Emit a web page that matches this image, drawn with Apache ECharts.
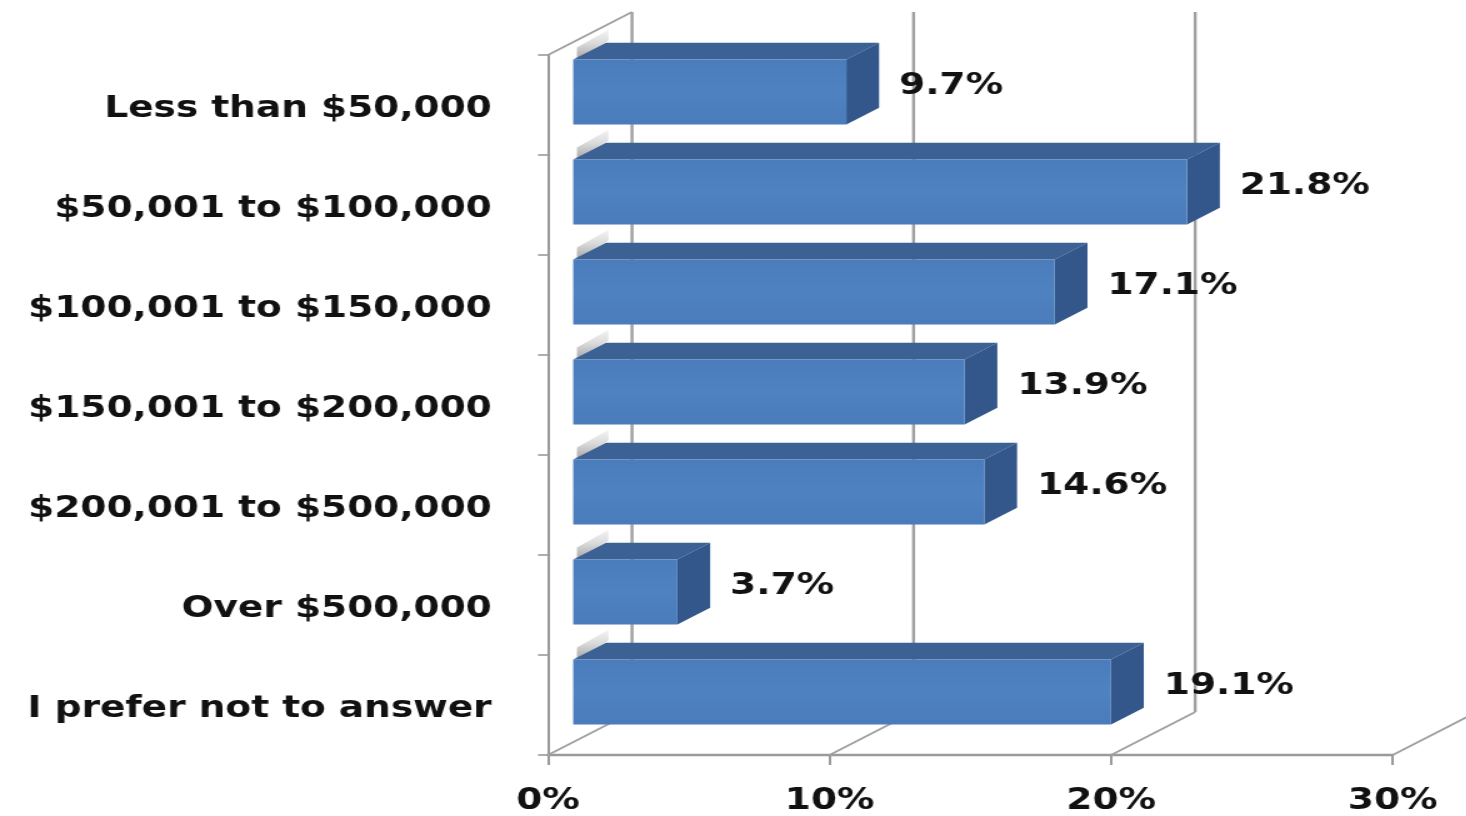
<!DOCTYPE html>
<html>
<head>
<meta charset="utf-8">
<script src="https://cdn.jsdelivr.net/npm/echarts@6/dist/echarts.min.js"></script>
<style>
  html, body { margin: 0; padding: 0; background: #ffffff; overflow: hidden; }
  /* the chart is laid out narrow and widened horizontally as a whole */
  #chart { width: 1172.8px; height: 816px; transform: scaleX(1.25); transform-origin: 0 0; }
</style>
</head>
<body>
<div id="chart"></div>
<script>
// Household income categories and the share of respondents (%)
const categories = [
  'Less than $50,000',
  '$50,001 to $100,000',
  '$100,001 to $150,000',
  '$150,001 to $200,000',
  '$200,001 to $500,000',
  'Over $500,000',
  'I prefer not to answer'
];
const shares = [9.7, 21.8, 17.1, 13.9, 14.6, 3.7, 19.1];
const xTicks = [0, 10, 20, 30];

const FONT = '"DejaVu Sans", Verdana, sans-serif';
// oblique depth of the 3D box (px) and where the bars sit along it
const DEPTH = [67.2, -43];
const BAR_FRONT = 0.30, BAR_BACK = 0.69;
const WALL = '#a0a0a0';

const chart = echarts.init(document.getElementById('chart'));

function shift(p, t) { return [p[0] + DEPTH[0] * t, p[1] + DEPTH[1] * t]; }

// Back wall gridlines, floor diagonals and the left wall's top edge
function renderWalls(params, api) {
  const v = api.value(0);
  const cs = params.coordSys;
  const x = api.coord([v, 0])[0];
  const yTop = cs.y, yBot = cs.y + cs.height;
  const children = [];
  const bTop = shift([x, yTop], 1), bBot = shift([x, yBot], 1);
  children.push({ type: 'line', shape: { x1: bTop[0], y1: bTop[1], x2: bBot[0], y2: bBot[1] },
    style: { stroke: WALL, lineWidth: 2.4 } });
  children.push({ type: 'line', shape: { x1: x, y1: yBot, x2: bBot[0], y2: bBot[1] },
    style: { stroke: WALL, lineWidth: 1.8 } });
  if (v === 0) {
    children.push({ type: 'line', shape: { x1: x, y1: yTop, x2: bTop[0], y2: bTop[1] },
      style: { stroke: WALL, lineWidth: 1.8 } });
  }
  return { type: 'group', children };
}

// 3D bar: front face, top face, end face, wall highlight and value label
function renderBar(params, api) {
  const v = api.value(0);
  const c = api.value(1);
  const p0 = api.coord([0, c]);
  const p1 = api.coord([v, c]);
  const h = api.size([0, 1])[1] * 0.65;
  const yt = p0[1] - h / 2, yb = p0[1] + h / 2;
  const fx = DEPTH[0] * BAR_FRONT, fy = DEPTH[1] * BAR_FRONT;
  const bx = DEPTH[0] * BAR_BACK, by = DEPTH[1] * BAR_BACK;
  const x0 = p0[0], x1 = p1[0];
  const children = [];
  // light streak on the wall just above the bar's left end
  children.push({ type: 'polygon', shape: { points: [
      [x0 + fx + 3, yt + fy - 1], [x0 + bx + 2, yt + by - 2],
      [x0 + bx + 2, yt + by - 13], [x0 + fx + 3, yt + fy - 12]] },
    style: { fill: new echarts.graphic.LinearGradient(0, 0, 0, 1, [
      { offset: 0, color: '#f4f4f4' }, { offset: 0.45, color: '#dcdcdc' }, { offset: 1, color: '#a9a9a9' }]) } });
  // top face
  children.push({ type: 'polygon', shape: { points: [
      [x0 + fx, yt + fy], [x1 + fx, yt + fy], [x1 + bx, yt + by], [x0 + bx, yt + by]] },
    style: { fill: '#3c6195' } });
  // end face
  children.push({ type: 'polygon', shape: { points: [
      [x1 + fx, yt + fy], [x1 + bx, yt + by], [x1 + bx, yb + by], [x1 + fx, yb + fy]] },
    style: { fill: '#33578a' } });
  // front face
  children.push({ type: 'rect', shape: { x: x0 + fx, y: yt + fy, width: x1 - x0, height: h },
    style: { fill: new echarts.graphic.LinearGradient(0, 0, 0, 1, [
      { offset: 0, color: '#4b7dbd' }, { offset: 0.5, color: '#4f82c1' }, { offset: 1, color: '#4a7bba' }]) } });
  // value label
  children.push({ type: 'text', style: {
      text: v.toFixed(1) + '%', x: x1 + bx + 16, y: p0[1] + fy - 6,
      fill: '#111', font: 'bold 30px ' + FONT, align: 'left', verticalAlign: 'middle' } });
  return { type: 'group', children };
}

chart.setOption({
  backgroundColor: '#ffffff',
  animation: false,
  grid: { left: 438.4, right: 58.8, top: 55, bottom: 59, containLabel: false },
  xAxis: {
    type: 'value', min: 0, max: 30, interval: 10,
    axisLine: { show: true, lineStyle: { color: '#9a9a9a', width: 2.4 } },
    axisTick: { show: true, length: 10, lineStyle: { color: '#9a9a9a', width: 2 } },
    splitLine: { show: false },
    axisLabel: { formatter: '{value}%', fontFamily: FONT, fontWeight: 'bold', fontSize: 30,
      color: '#111', margin: 31 }
  },
  yAxis: {
    type: 'category', data: categories, inverse: true,
    axisLine: { show: true, lineStyle: { color: '#9a9a9a', width: 2 } },
    axisTick: { show: true, length: 8, lineStyle: { color: '#9a9a9a', width: 1.6 } },
    // short line box hung from the band centre drops each label a few px
    axisLabel: { fontFamily: FONT, fontWeight: 'bold', fontSize: 30, color: '#111', margin: 45,
      verticalAlign: 'top', lineHeight: 8 }
  },
  series: [
    { type: 'custom', renderItem: renderWalls, data: xTicks.map(v => [v]),
      encode: { x: 0 }, clip: false, z: 1, silent: true },
    { type: 'custom', renderItem: renderBar, data: shares.map((v, i) => [v, i]),
      encode: { x: 0, y: 1 }, clip: false, z: 2, silent: true }
  ]
});
</script>
</body>
</html>
